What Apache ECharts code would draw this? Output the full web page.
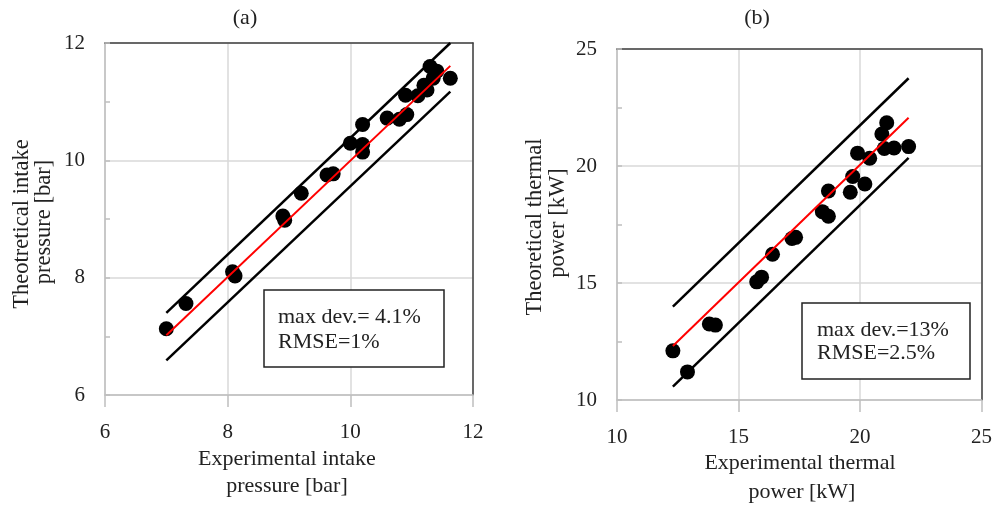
<!DOCTYPE html>
<html>
<head>
<meta charset="utf-8">
<script src="https://cdn.jsdelivr.net/npm/echarts@6/dist/echarts.min.js"></script>
<style>
html,body{margin:0;padding:0;background:#fff;}
#c{width:995px;height:505px;}
</style>
</head>
<body>
<div id="c"></div>
<script>
// ---- Data: panel (a) intake pressure [bar] ----
const expPressure = [7.0, 7.32, 8.08, 8.12, 8.9, 8.93, 9.2, 9.62, 9.72, 10.0, 10.2, 10.2, 10.2, 10.6, 10.8, 10.92, 10.9, 11.1, 11.25, 11.2, 11.3, 11.41, 11.35, 11.63];
const theoPressure = [7.13, 7.56, 8.1, 8.03, 9.05, 8.98, 9.44, 9.75, 9.77, 10.29, 10.61, 10.27, 10.14, 10.72, 10.7, 10.78, 11.11, 11.1, 11.2, 11.28, 11.6, 11.52, 11.4, 11.4];
const lineAx = [7.0, 11.63];
const fitAy = [7.02, 11.61];
const upperAy = [7.40, 12.0];
const lowerAy = [6.59, 11.17];

// ---- Data: panel (b) thermal power [kW] ----
const expPower = [12.3, 12.9, 13.8, 14.05, 15.75, 15.95, 16.4, 17.2, 17.35, 18.45, 18.7, 18.7, 19.6, 19.7, 20.2, 19.9, 20.4, 20.9, 21.1, 21.0, 21.4, 22.0];
const theoPower = [12.1, 11.2, 13.25, 13.2, 15.05, 15.25, 16.23, 16.9, 16.95, 18.05, 17.85, 18.93, 18.88, 19.55, 19.23, 20.55, 20.33, 21.37, 21.85, 20.75, 20.77, 20.83];
const lineBx = [12.3, 22.0];
const fitBy = [12.31, 22.06];
const upperBy = [13.99, 23.75];
const lowerBy = [10.57, 20.35];

// ---- Text ----
const titles = ['(a)', '(b)'];
const xNames = [['Experimental intake', 'pressure [bar]'], ['Experimental thermal', 'power [kW]']];
const yNames = [['Theotretical intake', 'pressure [bar]'], ['Theoretical thermal', 'power [kW]']];
const statsA = ['max dev.= 4.1%', 'RMSE=1%'];
const statsB = ['max dev.=13%', 'RMSE=2.5%'];

const FONT = '"Liberation Serif", "Times New Roman", serif';
const TXT = '#222';
const GRID = '#d9d9d9';
const AXG = '#bfbfbf';
const DARK = '#404040';

const pairs = (xs, ys) => xs.map((x, i) => [x, ys[i]]);

function mainX(gi, min, max, interval) {
  return {
    type: 'value', gridIndex: gi, min, max, interval, position: 'bottom',
    axisLine: {show: true, onZero: false, lineStyle: {color: AXG, width: 1.5}},
    axisTick: {show: true, length: 12, lineStyle: {color: AXG, width: 1.5}},
    axisLabel: {color: TXT, fontFamily: FONT, fontSize: 21, margin: 27},
    splitLine: {show: true, lineStyle: {color: GRID, width: 1.5}}
  };
}
function mainY(gi, min, max, interval) {
  return {
    type: 'value', gridIndex: gi, min, max, interval, position: 'left',
    axisLine: {show: true, onZero: false, lineStyle: {color: AXG, width: 1.5}},
    axisTick: {show: true, inside: true, length: 5, lineStyle: {color: AXG, width: 1.5}},
    minorTick: {show: true, splitNumber: 2, length: 5, lineStyle: {color: AXG, width: 1.5}},
    axisLabel: {color: TXT, fontFamily: FONT, fontSize: 21, margin: 20},
    splitLine: {show: true, lineStyle: {color: GRID, width: 1.5}}
  };
}
function frameX(gi, min, max) {
  return {type: 'value', gridIndex: gi, min, max, position: 'top',
    axisLine: {show: true, onZero: false, lineStyle: {color: DARK, width: 1.5}},
    axisTick: {show: false}, axisLabel: {show: false}, splitLine: {show: false}};
}
function frameY(gi, min, max) {
  return {type: 'value', gridIndex: gi, min, max, position: 'right',
    axisLine: {show: true, onZero: false, lineStyle: {color: DARK, width: 1.5}},
    axisTick: {show: false}, axisLabel: {show: false}, splitLine: {show: false}};
}

function lineSeries(xi, yi, xs, ys, color, w) {
  return {type: 'line', xAxisIndex: xi, yAxisIndex: yi, data: pairs(xs, ys),
    symbol: 'none', lineStyle: {color, width: w}, silent: true, z: 3, clip: false};
}
function scatterSeries(xi, yi, xs, ys) {
  return {type: 'scatter', xAxisIndex: xi, yAxisIndex: yi, data: pairs(xs, ys),
    symbol: 'circle', symbolSize: 15, itemStyle: {color: '#000', opacity: 1}, z: 2};
}

function txt(x, y, s, opts) {
  return Object.assign({type: 'text', x, y, style: Object.assign({
    text: s, font: '22px ' + FONT, fill: TXT, textAlign: 'center', textVerticalAlign: 'middle'
  }, opts || {})});
}
function rotTxt(x, y, s) {
  return {type: 'text', x, y, rotation: Math.PI / 2,
    style: {text: s, font: '22.5px ' + FONT, fill: TXT, textAlign: 'center', textVerticalAlign: 'middle'}};
}
function box(x, y, w, h, lines, tx, ty1, ty2) {
  return [
    {type: 'rect', shape: {x, y, width: w, height: h}, style: {fill: '#fff', stroke: '#222', lineWidth: 1.5}, z: 10},
    Object.assign(txt(tx, ty1, lines[0], {textAlign: 'left'}), {z: 11}),
    Object.assign(txt(tx, ty2, lines[1], {textAlign: 'left'}), {z: 11})
  ];
}

const chart = echarts.init(document.getElementById('c'), null, {renderer: 'canvas'});
chart.setOption({
  animation: false,
  backgroundColor: '#fff',
  grid: [
    {left: 105, top: 43, width: 368, height: 352},
    {left: 617, top: 49, width: 370, height: 351}
  ],
  xAxis: [mainX(0, 6, 12, 2), frameX(0, 6, 12), mainX(1, 10, 25, 5), frameX(1, 10, 25)],
  yAxis: [mainY(0, 6, 12, 2), frameY(0, 6, 12), mainY(1, 10, 25, 5), frameY(1, 10, 25)],
  series: [
    scatterSeries(0, 0, expPressure, theoPressure),
    lineSeries(0, 0, lineAx, upperAy, '#000', 2.5),
    lineSeries(0, 0, lineAx, lowerAy, '#000', 2.5),
    lineSeries(0, 0, lineAx, fitAy, '#ff0000', 2),
    scatterSeries(2, 2, expPower, theoPower),
    lineSeries(2, 2, lineBx, upperBy, '#000', 2.5),
    lineSeries(2, 2, lineBx, lowerBy, '#000', 2.5),
    lineSeries(2, 2, lineBx, fitBy, '#ff0000', 2)
  ],
  graphic: [
    txt(245, 18, titles[0]),
    txt(757, 18, titles[1]),
    txt(287, 459, xNames[0][0]),
    txt(287, 486, xNames[0][1]),
    txt(800, 463, xNames[1][0]),
    txt(802, 492, xNames[1][1]),
    rotTxt(22, 224, yNames[0][0]),
    rotTxt(44, 222, yNames[0][1]),
    rotTxt(535, 227, yNames[1][0]),
    rotTxt(558, 223, yNames[1][1])
  ].concat(box(264, 290, 180, 77, statsA, 278, 317, 342))
   .concat(box(802, 303, 168, 76, statsB, 817, 330, 353))
});
</script>
</body>
</html>
